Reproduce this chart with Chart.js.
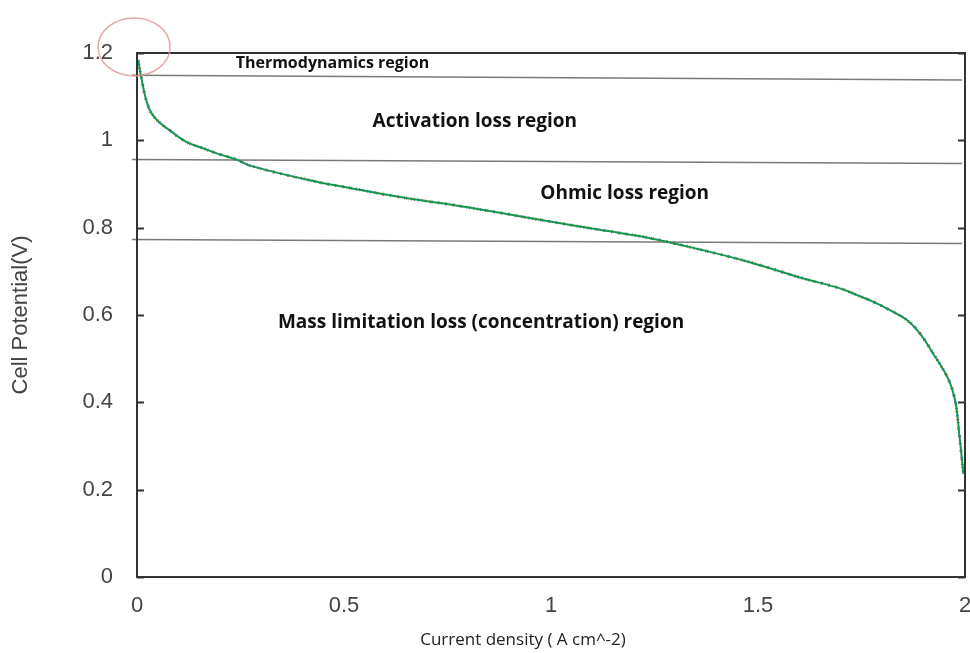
<!DOCTYPE html>
<html>
<head>
<meta charset="utf-8">
<script src="https://cdn.jsdelivr.net/npm/chart.js@4.4.1/dist/chart.umd.min.js"></script>
<style>
  html, body { margin: 0; padding: 0; background: #ffffff; }
  #wrap { width: 970px; height: 653px; }
</style>
</head>
<body>
<div id="wrap"><canvas id="polarization" width="970" height="653"></canvas></div>
<script>
// polarization curve: current density (A cm^-2) vs cell potential (V)
const currentDensity = [0.003, 0.007, 0.013, 0.018, 0.024, 0.031, 0.043, 0.060, 0.076, 0.100, 0.124, 0.156, 0.196, 0.237, 0.277,
    0.434, 0.514, 0.635, 0.756, 0.877, 0.998, 1.118, 1.239, 1.360, 1.480, 1.601, 1.698, 1.738, 1.779, 1.819, 1.859,
    1.891, 1.923, 1.948, 1.964, 1.976, 1.981, 1.986, 1.992, 1.996];
const cellPotential = [1.184, 1.161, 1.131, 1.108, 1.087, 1.069, 1.052, 1.036, 1.025, 1.008, 0.994, 0.983, 0.969, 0.957, 0.941,
    0.905, 0.891, 0.870, 0.853, 0.834, 0.814, 0.795, 0.776, 0.750, 0.721, 0.686, 0.661, 0.646, 0.630, 0.611, 0.589,
    0.558, 0.512, 0.474, 0.444, 0.405, 0.375, 0.329, 0.275, 0.236];

// region boundary lines (start / end of each)
const boundaryX = [-0.012, 1.993];
const thermoLine = [1.149, 1.138];
const ohmicLine = [0.956, 0.947];
const massLine = [0.773, 0.764];

// region labels: text, x, y (data units), font size
const regionNames = ['Thermodynamics region', 'Activation loss region', 'Ohmic loss region', 'Mass limitation loss (concentration) region'];
const regionX = [0.472, 0.816, 1.178, 0.831];
const regionY = [1.175, 1.044, 0.877, 0.582];
const regionSize = [16, 19, 19, 19];

const yTicks = [0, 0.2, 0.4, 0.6, 0.8, 1, 1.2];
const xTicks = [0, 0.5, 1, 1.5, 2];

const toPoints = (xs, ys) => xs.map((x, i) => ({ x: x, y: ys[i] }));
const curve = toPoints(currentDensity, cellPotential);

const boundary = (ys) => ({
    data: toPoints(boundaryX, ys),
    borderColor: '#7a7a7a',
    borderWidth: 1.5,
    pointRadius: 0,
    tension: 0,
    clip: false,
    order: 5
});

// frame, inward ticks, labels and the circled start point
const decorations = {
    id: 'decorations',
    afterDatasetsDraw(chart) {
        const c = chart.ctx;
        const area = chart.chartArea;
        const xs = chart.scales.x;
        const ys = chart.scales.y;
        c.save();
        c.strokeStyle = '#333333';
        c.lineWidth = 2;
        c.strokeRect(area.left, area.top, area.right - area.left, area.bottom - area.top);
        yTicks.forEach(v => {
            const py = Math.round(ys.getPixelForValue(v)) + 0.5;
            c.beginPath();
            c.moveTo(area.left, py); c.lineTo(area.left + 7, py);
            c.moveTo(area.right, py); c.lineTo(area.right - 7, py);
            c.stroke();
        });
        c.fillStyle = '#111111';
        c.textAlign = 'center';
        c.textBaseline = 'middle';
        regionNames.forEach((name, i) => {
            c.font = 'bold ' + regionSize[i] + 'px "Open Sans"';
            c.fillText(name, xs.getPixelForValue(regionX[i]), ys.getPixelForValue(regionY[i]));
        });
        c.fillStyle = '#222222';
        c.font = '17px "Open Sans"';
        c.fillText('Current density ( A cm^-2)', 523, 640);
        c.strokeStyle = 'rgba(228, 150, 150, 0.85)';
        c.lineWidth = 1.5;
        c.beginPath();
        c.ellipse(xs.getPixelForValue(-0.007), ys.getPixelForValue(1.214), 36, 29, 0, 0, Math.PI * 2);
        c.stroke();
        c.restore();
    }
};

const tickFont = { family: 'Liberation Sans', size: 22 };

new Chart(document.getElementById('polarization'), {
    type: 'line',
    data: {
        datasets: [
            { data: curve, borderColor: '#e03030', borderWidth: 3, borderDash: [1, 7], pointRadius: 0, tension: 0.4, order: 3 },
            { data: curve, borderColor: '#2f6fe0', borderWidth: 3, borderDash: [1, 6], borderDashOffset: 3, pointRadius: 0, tension: 0.4, order: 2 },
            { data: curve, borderColor: '#18964c', borderWidth: 2, pointRadius: 0, tension: 0.4, order: 1 },
            boundary(thermoLine),
            boundary(ohmicLine),
            boundary(massLine)
        ]
    },
    options: {
        responsive: false,
        animation: false,
        devicePixelRatio: 1,
        layout: { padding: { top: 53, right: 5, left: 0, bottom: 0 } },
        plugins: { legend: { display: false }, tooltip: { enabled: false } },
        scales: {
            x: {
                type: 'linear',
                min: 0, max: 2,
                afterFit: s => { s.height = 76; s.paddingLeft = 0; s.paddingRight = 0; },
                afterBuildTicks: s => { s.ticks = xTicks.map(v => ({ value: v })); },
                grid: { display: false, drawTicks: false },
                border: { display: false },
                ticks: { padding: 16, color: '#444444', font: tickFont, callback: v => String(v) }
            },
            y: {
                min: 0, max: 1.2,
                afterFit: s => { s.width = 137; s.paddingTop = 0; s.paddingBottom = 0; },
                afterBuildTicks: s => { s.ticks = yTicks.map(v => ({ value: v })); },
                grid: { display: false, drawTicks: false },
                border: { display: false },
                ticks: { padding: 24, color: '#444444', font: tickFont, callback: v => String(v) },
                title: {
                    display: true,
                    text: 'Cell Potential(V)',
                    color: '#444444',
                    padding: { top: 8, bottom: 0 },
                    font: { family: 'Liberation Sans', size: 22 }
                }
            }
        }
    },
    plugins: [decorations]
});
</script>
</body>
</html>
